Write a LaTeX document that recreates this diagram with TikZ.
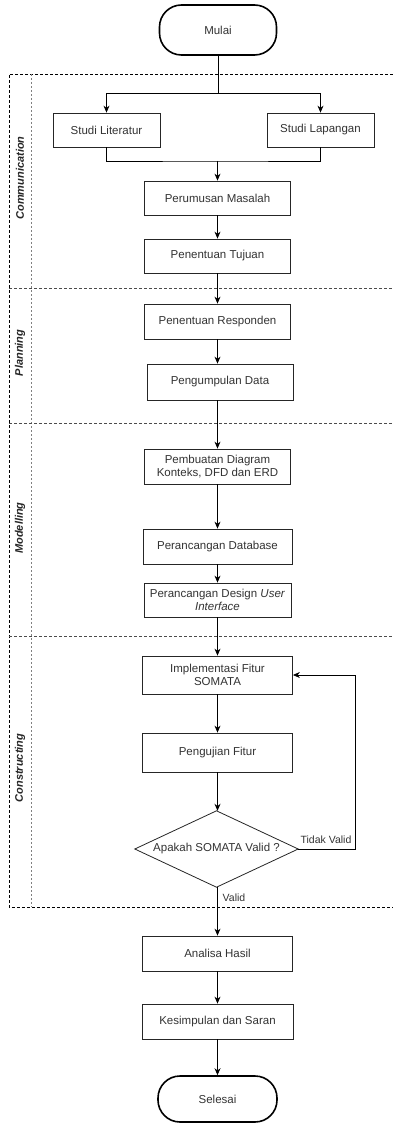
\documentclass[tikz,border=0pt]{standalone}
\usepackage{fontspec}
\setmainfont{Liberation Sans}
\usetikzlibrary{arrows.meta,calc}
\definecolor{txt}{HTML}{333333}
\definecolor{lane}{HTML}{808080}
\begin{document}
\begin{tikzpicture}[x=1pt,y=-1pt,
  every node/.style={font=\fontsize{11.5}{13.5}\selectfont, text=txt},
  procbox/.style={draw=black!85, line width=0.8pt, fill=white, align=center, inner sep=2pt},
  termbox/.style={draw=black, line width=1.6pt, fill=white, rounded corners=22pt},
  flow/.style={draw=black, line width=0.8pt, -{Stealth[length=7pt,width=6pt]}},
  plain/.style={draw=black, line width=0.8pt},
  lanelabel/.style={rotate=90, font=\fontsize{11}{13}\selectfont\bfseries\itshape, text=black!85},
  edgelabel/.style={font=\fontsize{10.5}{12}\selectfont, text=black!80}]
\useasboundingbox (0,0) rectangle (393,1123);

% swimlane frame
\draw[black, line width=0.7pt, dash pattern=on 3pt off 2pt] (393,74) -- (9,74) -- (9,907) -- (393,907);
\draw[lane, line width=0.7pt, dash pattern=on 2pt off 2pt] (31,74) -- (31,907);
\foreach \yy in {288,423,636}
  \draw[black!70, line width=0.7pt, dash pattern=on 3pt off 2pt] (9,\yy) -- (393,\yy);

\node[lanelabel] (lcom) at (20,178) {Communication};
\node[lanelabel] (lplan) at (20,353) {Planning};
\node[lanelabel] (lmod) at (20,528) {Modelling};
\node[lanelabel] (lcon) at (20,768) {Constructing};

% flow nodes
\node[termbox, minimum width=117pt, minimum height=50pt] (mulai) at (218,30) {Mulai};
\node[procbox, minimum width=107pt, minimum height=34pt] (lit) at (106.5,130) {Studi Literatur};
\node[procbox, minimum width=107pt, minimum height=34pt] (lap) at (320.5,130) {Studi Lapangan};
\node[procbox, minimum width=146pt, minimum height=34pt] (rumus) at (217.5,198) {Perumusan Masalah};
\node[procbox, minimum width=146pt, minimum height=34pt] (tujuan) at (217.5,256) {Penentuan Tujuan};
\node[procbox, minimum width=146pt, minimum height=35pt] (resp) at (217.5,321.5) {Penentuan Responden};
\node[procbox, minimum width=146pt, minimum height=36pt] (kumpul) at (220,382) {Pengumpulan Data};
\node[procbox, minimum width=146pt, minimum height=35pt] (diagram) at (217.5,466.5) {Pembuatan Diagram\\Konteks, DFD dan ERD};
\node[procbox, minimum width=149pt, minimum height=35pt] (db) at (217.5,546.5) {Perancangan Database};
\node[procbox, minimum width=147pt, minimum height=34pt] (ui) at (217.5,600) {Perancangan Design \textit{User}\\\textit{Interface}};
\node[procbox, minimum width=150pt, minimum height=38pt] (impl) at (217.5,675) {Implementasi Fitur\\SOMATA};
\node[procbox, minimum width=150pt, minimum height=39pt] (uji) at (217.5,752.5) {Pengujian Fitur};
\node[minimum width=163pt, minimum height=76pt, inner sep=0pt] (dec) at (216.5,849) {};
\draw[black!85, line width=0.8pt, fill=white] (dec.north) -- (dec.east) -- (dec.south) -- (dec.west) -- cycle;
\node (dectext) at (dec.center) {Apakah SOMATA Valid ?};
\node[procbox, minimum width=150pt, minimum height=35pt] (analisa) at (217.5,953.5) {Analisa Hasil};
\node[procbox, minimum width=151pt, minimum height=35pt] (kes) at (217.5,1021.5) {Kesimpulan dan Saran};
\node[termbox, minimum width=119pt, minimum height=46pt] (selesai) at (217.5,1099) {Selesai};

% connectors
\coordinate (split) at (218,93);
\coordinate (join) at (217.5,161);
\coordinate (back) at (355,849);
\draw[plain] (mulai.south) -- (split);
\draw[flow] (split) -| (lit.north);
\draw[flow] (split) -| (lap.north);
\draw[plain] (lit.south) |- (join) -| (lap.south);
\draw[flow] (join) -- (rumus.north);
\draw[flow] (rumus) -- (tujuan);
\draw[flow] (tujuan) -- (resp);
\draw[flow] (resp.south) -- (resp.south |- kumpul.north);
\draw[flow] (kumpul.south -| diagram.north) -- (diagram.north);
\draw[flow] (diagram) -- (db);
\draw[flow] (db) -- (ui);
\draw[flow] (ui) -- (impl);
\draw[flow] (impl) -- (uji);
\draw[flow] (uji.south) -- (uji.south |- dec.north);
\draw[flow] (dec.south -| analisa.north) -- (analisa.north);
\draw[flow] (analisa) -- (kes);
\draw[flow] (kes) -- (selesai);
\draw[flow] (dec.east) -- (back) |- (impl.east);

\node[edgelabel] (tv) at (326,840) {Tidak Valid};
\node[edgelabel] (vl) at (234,898) {Valid};
\end{tikzpicture}
\end{document}
